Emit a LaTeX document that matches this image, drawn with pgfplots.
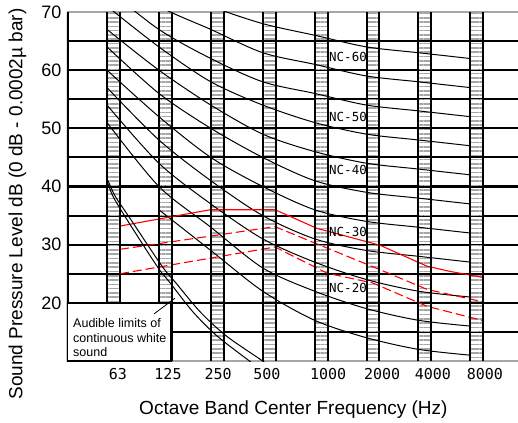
\documentclass[border=0pt]{standalone}
\usepackage{pgfplots}
\pgfplotsset{compat=1.18}
\usetikzlibrary{patterns.meta}
\usepackage{fontspec}
\setmainfont{Liberation Sans}
\newfontfamily\monofont{DejaVu Sans Mono}

\begin{document}
\begin{tikzpicture}
\begin{axis}[
  scale only axis, width=451pt, height=349pt,
  at={(0,0)}, anchor=south west,
  xmin=-0.771, xmax=7.919, ymin=10, ymax=70,
  axis line style={draw=none},
  xtick={0.21,1.175,2.14,3.08,4.26,5.30,6.28,7.28},
  xticklabels={63,125,250,500,1000,2000,4000,8000},
  ytick={15,20,...,65}, yticklabels={,20,,30,,40,,50,,60,},
  extra y ticks={10,70}, extra y tick labels={,70},
  extra y tick style={grid style={gray!70, line width=2pt}},
  major tick length=0pt,
  ymajorgrids, grid style={black, line width=2.1pt},
  xticklabel style={font=\monofont\fontsize{15}{18}\selectfont, yshift=-4pt},
  yticklabel style={font=\fontsize{18}{20}\selectfont, xshift=-2pt},
  xlabel={Octave Band Center Frequency (Hz)},
  ylabel={Sound Pressure Level dB (0 dB - 0.0002µ bar)},
  label style={font=\fontsize{19}{22}\selectfont},
  xlabel style={at={(axis description cs:0.502,-0.14)}, anchor=center},
  ylabel style={at={(axis description cs:-0.11,0.45)}, anchor=center},
  clip=true,
]
% ladder columns (rungs)
\addplot[draw=none, pattern={Lines[angle=0,distance=4.3pt,line width=1.6pt]}, pattern color=gray!70] coordinates {(0,10)(0.25,10)(0.25,70)(0,70)} --cycle;
\addplot[draw=none, pattern={Lines[angle=0,distance=4.3pt,line width=1.6pt]}, pattern color=gray!70] coordinates {(1,10)(1.25,10)(1.25,70)(1,70)} --cycle;
\addplot[draw=none, pattern={Lines[angle=0,distance=4.3pt,line width=1.6pt]}, pattern color=gray!70] coordinates {(2,10)(2.25,10)(2.25,70)(2,70)} --cycle;
\addplot[draw=none, pattern={Lines[angle=0,distance=4.3pt,line width=1.6pt]}, pattern color=gray!70] coordinates {(3,10)(3.25,10)(3.25,70)(3,70)} --cycle;
\addplot[draw=none, pattern={Lines[angle=0,distance=4.3pt,line width=1.6pt]}, pattern color=gray!70] coordinates {(4,10)(4.25,10)(4.25,70)(4,70)} --cycle;
\addplot[draw=none, pattern={Lines[angle=0,distance=4.3pt,line width=1.6pt]}, pattern color=gray!70] coordinates {(5,10)(5.25,10)(5.25,70)(5,70)} --cycle;
\addplot[draw=none, pattern={Lines[angle=0,distance=4.3pt,line width=1.6pt]}, pattern color=gray!70] coordinates {(6,10)(6.25,10)(6.25,70)(6,70)} --cycle;
\addplot[draw=none, pattern={Lines[angle=0,distance=4.3pt,line width=1.6pt]}, pattern color=gray!70] coordinates {(7,10)(7.25,10)(7.25,70)(7,70)} --cycle;

% NC curves
\addplot[black, line width=1pt, smooth] coordinates {(1,36)(2,29)(3,22)(4,17)(5,14)(6,12)(7,11)};
\addplot[black, line width=1pt, smooth] coordinates {(0,51)(1,40)(2,33)(3,26)(4,22)(5,19)(6,17)(7,16)};
\addplot[black, line width=1pt, smooth] coordinates {(0,54)(1,44)(2,37)(3,31)(4,27)(5,24)(6,22)(7,21)};
\addplot[black, line width=1pt, smooth] coordinates {(0,57)(1,48)(2,41)(3,35)(4,31)(5,29)(6,28)(7,27)};
\addplot[black, line width=1pt, smooth] coordinates {(0,60)(1,52)(2,45)(3,40)(4,36)(5,34)(6,33)(7,32)};
\addplot[black, line width=1pt, smooth] coordinates {(0,64)(1,56)(2,50)(3,45)(4,41)(5,39)(6,38)(7,37)};
\addplot[black, line width=1pt, smooth] coordinates {(0,67)(1,60)(2,54)(3,49)(4,46)(5,44)(6,43)(7,42)};
\addplot[black, line width=1pt, smooth] coordinates {(0,71)(1,64)(2,58)(3,54)(4,51)(5,49)(6,48)(7,47)};
\addplot[black, line width=1pt, smooth] coordinates {(0,74)(1,67)(2,62)(3,58)(4,56)(5,54)(6,53)(7,52)};
\addplot[black, line width=1pt, smooth] coordinates {(0,77)(1,71)(2,67)(3,63)(4,61)(5,59)(6,58)(7,57)};
\addplot[black, line width=1pt, smooth] coordinates {(0,80)(1,75)(2,71)(3,68)(4,66)(5,64)(6,63)(7,62)};

% red curves
\addplot[red, line width=1.1pt] coordinates {(0.25,33.2)(1.985,36.0)(3.237,36.0)(4.046,32.8)(5.26,29.9)(6.166,26.3)(6.61,25.4)(7.225,24.4)};
\addplot[red, line width=1.1pt, dash pattern=on 9pt off 4pt] coordinates {(0.25,29.2)(3.237,33.1)(4.0,30.3)(5.26,25.7)(6.17,22.3)(7.23,20.2)};
\addplot[red, line width=1.1pt, dash pattern=on 9pt off 4pt] coordinates {(0.25,25.0)(3.237,29.6)(4.24,25.1)(5.125,23.4)(6.166,19.4)(7.225,17.0)};

% audible limits of continuous white sound
\addplot[black, line width=1pt, smooth] coordinates {(0,41)(0.116,38.3)(0.385,34.3)(0.963,26.3)(1.21,23.5)(1.66,18.4)(2.12,14.3)(2.70,10.3)(2.85,9.3)};
\addplot[black, line width=1pt, smooth] coordinates {(0.02,41)(0.16,38.3)(0.46,34.3)(1.06,26.3)(1.32,23.5)(1.80,18.4)(2.30,14.3)(2.95,10.3)(3.1,9.3)};

% column edges
\addplot[black, line width=2pt, unbounded coords=jump] coordinates {
 (0,10)(0,70)(0,nan)(0.25,10)(0.25,70)(0.25,nan)
 (1,10)(1,70)(1,nan)(1.25,10)(1.25,70)(1.25,nan)
 (2,10)(2,70)(2,nan)(2.25,10)(2.25,70)(2.25,nan)
 (3,10)(3,70)(3,nan)(3.25,10)(3.25,70)(3.25,nan)
 (4,10)(4,70)(4,nan)(4.25,10)(4.25,70)(4.25,nan)
 (5,10)(5,70)(5,nan)(5.25,10)(5.25,70)(5.25,nan)
 (6,10)(6,70)(6,nan)(6.25,10)(6.25,70)(6.25,nan)
 (7,10)(7,70)(7,nan)(7.25,10)(7.25,70)};
% left border
\addplot[black, line width=4.5pt] coordinates {(-0.771,10)(-0.771,70)};

% annotation box
\addplot[fill=white, draw=black, line width=1.6pt] coordinates {(-0.771,10)(1.233,10)(1.233,20)(-0.771,20)} --cycle;
\addplot[black, line width=0.8pt] coordinates {(0.906,18.1)(1.31,20.8)};
\node[anchor=north west, align=left, inner sep=0pt, font=\fontsize{12.5}{14.3}\selectfont] at (axis cs:-0.655,17.3) {Audible limits of\\continuous white\\sound};

% NC labels
\node[anchor=west, inner sep=0pt, font=\monofont\fontsize{12.5}{14}\selectfont] at (axis cs:4.277,62.3) {NC-60};
\node[anchor=west, inner sep=0pt, font=\monofont\fontsize{12.5}{14}\selectfont] at (axis cs:4.277,52.0) {NC-50};
\node[anchor=west, inner sep=0pt, font=\monofont\fontsize{12.5}{14}\selectfont] at (axis cs:4.277,42.8) {NC-40};
\node[anchor=west, inner sep=0pt, font=\monofont\fontsize{12.5}{14}\selectfont] at (axis cs:4.277,32.2) {NC-30};
\node[anchor=west, inner sep=0pt, font=\monofont\fontsize{12.5}{14}\selectfont] at (axis cs:4.277,22.6) {NC-20};
\end{axis}
\pgfresetboundingbox
\path (-67pt,-61pt) rectangle (451pt,361pt);
\end{tikzpicture}
\end{document}
